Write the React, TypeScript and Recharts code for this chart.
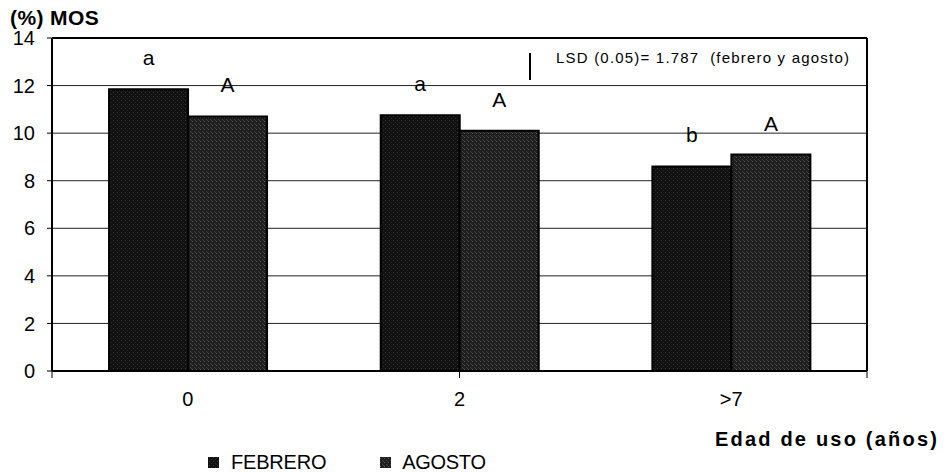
import { BarChart, Bar, XAxis, YAxis, CartesianGrid, LabelList, ReferenceLine } from 'recharts';

const categories = ['0', '2', '>7'];
const febrero = [11.85, 10.75, 8.6];
const agosto = [10.7, 10.1, 9.1];
const febreroLetters = ['a', 'a', 'b'];
const agostoLetters = ['A', 'A', 'A'];
const yTicks = [0, 2, 4, 6, 8, 10, 12, 14];
const lsdText = 'LSD (0.05)= 1.787  (febrero y agosto)';

const FONT = 'Arial, "Liberation Sans", sans-serif';

const chartData = categories.map((cat, i) => ({
  cat,
  febrero: febrero[i],
  agosto: agosto[i],
  febLetter: febreroLetters[i],
  agoLetter: agostoLetters[i],
}));

export default function App() {
  return (
    <div style={{ position: 'absolute', left: 0, top: 0, width: 944, height: 474, background: '#fff', fontFamily: FONT }}>
      <BarChart
        width={944}
        height={474}
        data={chartData}
        margin={{ top: 38, right: 76, bottom: 62, left: 0 }}
        barCategoryGap="21%"
        barGap={0}
      >
        <defs>
          <pattern id="texFeb" width="4" height="4" patternUnits="userSpaceOnUse">
            <rect width="4" height="4" fill="#111" />
            <rect x="1" y="0" width="1" height="1" fill="#3a3a3a" />
            <rect x="3" y="2" width="1" height="1" fill="#2c2c2c" />
          </pattern>
          <pattern id="texAgo" width="4" height="4" patternUnits="userSpaceOnUse">
            <rect width="4" height="4" fill="#1e1e1e" />
            <rect x="0" y="1" width="1" height="1" fill="#5a5a5a" />
            <rect x="2" y="3" width="1" height="1" fill="#444" />
            <rect x="3" y="0" width="1" height="1" fill="#404040" />
          </pattern>
        </defs>
        <CartesianGrid xAxisId="b" vertical={false} stroke="#222" />
        <XAxis
          xAxisId="a"
          type="number"
          domain={[0, 3]}
          ticks={[0, 1, 2, 3]}
          tickFormatter={() => ''}
          axisLine={{ stroke: '#000', strokeWidth: 2 }}
          tickLine={{ stroke: '#000' }}
          tickSize={7}
          height={1}
        />
        <XAxis
          xAxisId="b"
          dataKey="cat"
          axisLine={false}
          tickLine={false}
          tick={{ fill: '#000', fontSize: 20, fontFamily: FONT }}
          tickMargin={14}
          height={40}
        />
        <YAxis
          domain={[0, 14]}
          ticks={yTicks}
          interval={0}
          width={52}
          axisLine={{ stroke: '#000', strokeWidth: 2 }}
          tickLine={{ stroke: '#000' }}
          tickSize={5}
          tickMargin={12}
          tick={{ fill: '#000', fontSize: 20, fontFamily: FONT }}
        />
        <YAxis
          yAxisId="right"
          orientation="right"
          domain={[0, 14]}
          width={1}
          tick={false}
          axisLine={{ stroke: '#000', strokeWidth: 2 }}
        />
        <ReferenceLine xAxisId="b" y={14} stroke="#000" strokeWidth={2} />
        <Bar xAxisId="b" dataKey="febrero" name="FEBRERO" fill="url(#texFeb)" stroke="#000" strokeWidth={2} isAnimationActive={false}>
          <LabelList dataKey="febLetter" position="top" offset={24} fill="#000" fontSize={21} fontFamily={FONT} />
        </Bar>
        <Bar xAxisId="b" dataKey="agosto" name="AGOSTO" fill="url(#texAgo)" stroke="#000" strokeWidth={2} isAnimationActive={false}>
          <LabelList dataKey="agoLetter" position="top" offset={24} fill="#000" fontSize={21} fontFamily={FONT} />
        </Bar>
      </BarChart>

      <div style={{ position: 'absolute', left: 10, top: 6, fontSize: 21, fontWeight: 700, letterSpacing: 0.4 }}>(%) MOS</div>
      <div style={{ position: 'absolute', left: 556, top: 49, fontSize: 15, letterSpacing: 1.2, whiteSpace: 'pre' }}>{lsdText}</div>
      <div style={{ position: 'absolute', left: 529, top: 53, width: 2, height: 27, background: '#000' }} />
      <div style={{ position: 'absolute', left: 715, top: 428, fontSize: 20, fontWeight: 700, letterSpacing: 2.2, whiteSpace: 'pre' }}>Edad de uso (años)</div>

      <div style={{ position: 'absolute', left: 208, top: 451, display: 'flex', alignItems: 'center', fontSize: 20 }}>
        <svg width={11} height={11} style={{ marginRight: 12 }}>
          <rect width={11} height={11} fill="url(#texFeb)" />
        </svg>
        <span style={{ letterSpacing: -0.2 }}>FEBRERO</span>
        <svg width={11} height={11} style={{ marginLeft: 54, marginRight: 11 }}>
          <rect width={11} height={11} fill="url(#texAgo)" />
        </svg>
        <span style={{ letterSpacing: -0.3 }}>AGOSTO</span>
      </div>
    </div>
  );
}
